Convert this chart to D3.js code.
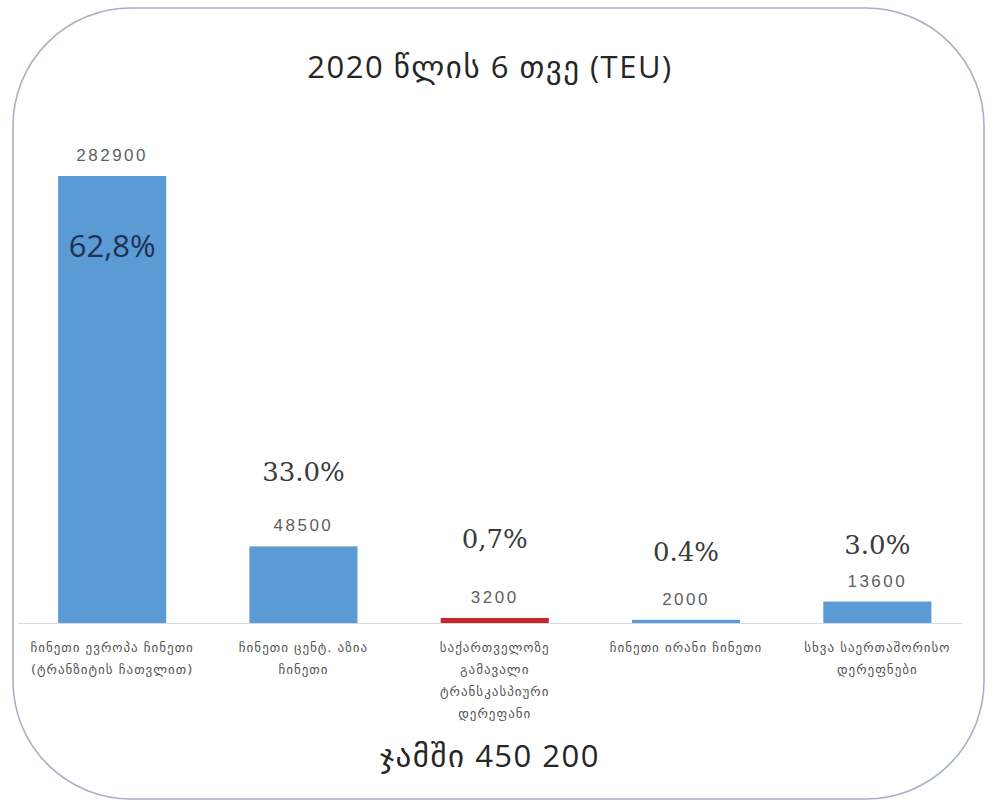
<!DOCTYPE html>
<html>
<head>
<meta charset="utf-8">
<script src="https://cdn.jsdelivr.net/npm/d3@7/dist/d3.min.js"></script>
<style>
  html, body { margin: 0; padding: 0; background: #ffffff; }
  svg { display: block; }
</style>
</head>
<body>
<svg id="chart" width="993" height="807"></svg>
<script>
// Container traffic by corridor, first six months of 2020 (TEU)
const categories = [
  ["ჩინეთი ევროპა ჩინეთი", "(ტრანზიტის ჩათვლით)"],
  ["ჩინეთი ცენტ. აზია", "ჩინეთი"],
  ["საქართველოზე", "გამავალი", "ტრანსკასპიური", "დერეფანი"],
  ["ჩინეთი ირანი ჩინეთი"],
  ["სხვა საერთაშორისო", "დერეფნები"]
];
const values = [282900, 48500, 3200, 2000, 13600];
const percentLabels = ["62,8%", "33.0%", "0,7%", "0.4%", "3.0%"];
const titleText = "2020 წლის 6 თვე (TEU)";
const totalText = "ჯამში 450 200";

const svg = d3.select("#chart");
const baseY = 623;

// Rounded frame around the whole chart
svg.append("rect")
  .attr("x", 13).attr("y", 8)
  .attr("width", 971).attr("height", 791)
  .attr("rx", 118).attr("ry", 118)
  .attr("fill", "#ffffff")
  .attr("stroke", "#a7b1c4")
  .attr("stroke-width", 1.6);

const keys = categories.map((c, i) => i);

const x = d3.scaleBand()
  .domain(keys)
  .range([16.5, 973])
  .paddingInner(0.435)
  .paddingOuter(0.2175);

const y = d3.scaleLinear()
  .domain([0, 300000])
  .range([baseY, 149]);

// The Georgian-territory corridor is highlighted in red
const color = d3.scaleOrdinal()
  .domain(keys)
  .range(["#5b9bd5", "#5b9bd5", "#c1272d", "#5b9bd5", "#5b9bd5"]);

// Category axis (baseline only, labels drawn below)
const xAxis = d3.axisBottom(x).tickSize(0).tickFormat("");
const gx = svg.append("g")
  .attr("transform", `translate(0,${baseY})`)
  .call(xAxis);
gx.select(".domain")
  .attr("d", `M18,0.5H962`)
  .attr("stroke", "#d9d9d9")
  .attr("stroke-width", 1.2);

// Bars
svg.append("g").selectAll("rect")
  .data(values)
  .join("rect")
  .attr("x", (d, i) => x(i))
  .attr("y", d => y(d))
  .attr("width", x.bandwidth())
  .attr("height", d => baseY - y(d))
  .attr("fill", (d, i) => color(i));

// Value labels above bars
svg.append("g").selectAll("text")
  .data(values)
  .join("text")
  .attr("x", (d, i) => x(i) + x.bandwidth() / 2)
  .attr("y", d => y(d) - 15)
  .attr("text-anchor", "middle")
  .attr("font-family", "'Liberation Sans', 'DejaVu Sans', sans-serif")
  .attr("font-size", 17)
  .attr("letter-spacing", 2.5)
  .attr("fill", "#5f5f5f")
  .text(d => d);

// Share labels: the first sits inside its bar, the rest float above the value
const pctLift = [-96, 50, 55, 44, 33];
svg.append("g").selectAll("text")
  .data(percentLabels)
  .join("text")
  .attr("x", (d, i) => x(i) + x.bandwidth() / 2)
  .attr("y", (d, i) => y(values[i]) - 15 - pctLift[i])
  .attr("text-anchor", "middle")
  .attr("font-family", (d, i) => i === 0 ? "'Open Sans', 'DejaVu Sans', sans-serif" : "'DejaVu Serif', serif")
  .attr("font-size", (d, i) => i === 0 ? 31 : 26)
  .attr("fill", (d, i) => i === 0 ? "#1f3152" : "#3a3a3a")
  .text(d => d);

// Category labels, one tspan per line
const catG = svg.append("g");
categories.forEach((lines, i) => {
  const t = catG.append("text")
    .attr("text-anchor", "middle")
    .attr("font-family", "'DejaVu Sans', sans-serif")
    .attr("font-size", 13)
    .attr("letter-spacing", 1)
    .attr("fill", "#555555");
  lines.forEach((ln, j) => {
    t.append("tspan")
      .attr("x", x(i) + x.bandwidth() / 2)
      .attr("y", baseY + 29 + j * 22)
      .text(ln);
  });
});

// Title
svg.append("text")
  .attr("x", 490).attr("y", 78)
  .attr("text-anchor", "middle")
  .attr("font-family", "'Open Sans', 'DejaVu Sans', sans-serif")
  .attr("font-size", 31)
  .attr("letter-spacing", 1.5)
  .attr("fill", "#262626")
  .text(titleText);

// Total
svg.append("text")
  .attr("x", 490).attr("y", 767)
  .attr("text-anchor", "middle")
  .attr("font-family", "'Open Sans', 'DejaVu Sans', sans-serif")
  .attr("font-size", 31)
  .attr("letter-spacing", 1.5)
  .attr("fill", "#262626")
  .text(totalText);
</script>
</body>
</html>
